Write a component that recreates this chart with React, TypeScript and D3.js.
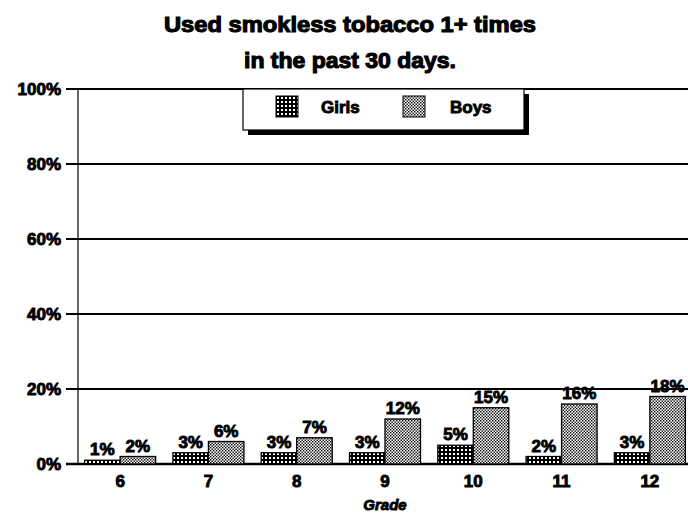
import React from "react";
import * as d3 from "d3";

const grades = ["6", "7", "8", "9", "10", "11", "12"];
const girls = [1, 3, 3, 3, 5, 2, 3];
const boys = [2, 6, 7, 12, 15, 16, 18];
const seriesNames = ["Girls", "Boys"];
const yTicks = [0, 20, 40, 60, 80, 100];
const titleLines = ["Used smokless tobacco 1+ times", "in the past 30 days."];

const W = 688;
const H = 513;
const left = 78;
const top = 89;
const bottom = 464;
const font = "'Liberation Sans', Arial, sans-serif";

const heavy = { stroke: "#000", strokeWidth: 0.9, fill: "#000" };

export default function App() {
  const x = d3.scaleBand<string>().domain(grades).range([76, 694]).paddingInner(0).paddingOuter(0);
  const pairW = 71;
  const inner = d3
    .scaleBand<string>()
    .domain(seriesNames)
    .range([(x.bandwidth() - pairW) / 2, (x.bandwidth() - pairW) / 2 + pairW]);
  const y = d3.scaleLinear().domain([0, 100]).range([bottom, top]);
  const series = [girls, boys];
  const fills = ["url(#pGirls)", "url(#pBoys)"];
  const titleW = [372, 212];

  return (
    <svg
      width={W}
      height={H}
      style={{ position: "absolute", left: 0, top: 0, background: "#fff" }}
      fontFamily={font}
    >
      <defs>
        <pattern id="pGirls" width="4" height="4" patternUnits="userSpaceOnUse">
          <rect width="4" height="4" fill="#000" />
          <rect x="1" y="1" width="2" height="2" fill="#fff" />
        </pattern>
        <pattern id="pBoys" width="3" height="3" patternUnits="userSpaceOnUse">
          <rect width="3" height="3" fill="#fff" />
          <rect x="0" y="0" width="1.4" height="1.4" fill="#000" />
          <rect x="1.5" y="1.5" width="1.4" height="1.4" fill="#000" />
        </pattern>
      </defs>
      <rect width={W} height={H} fill="#fff" />
      {titleLines.map((t, i) => (
        <text
          key={t}
          x={350}
          y={32 + i * 36}
          textAnchor="middle"
          fontSize={22}
          fontWeight="bold"
          textLength={titleW[i]}
          lengthAdjust="spacingAndGlyphs"
          {...heavy}
          strokeWidth={1.1}
        >
          {t}
        </text>
      ))}
      {yTicks.map((t) => (
        <g key={t}>
          <line x1={66} x2={W} y1={y(t)} y2={y(t)} stroke="#000" strokeWidth={t === 0 ? 2.5 : 2} />
          <text
            x={61}
            y={y(t)}
            dy="0.36em"
            textAnchor="end"
            fontSize={17}
            fontWeight="bold"
            {...heavy}
          >
            {t}%
          </text>
        </g>
      ))}
      <line x1={left} x2={left} y1={top} y2={bottom} stroke="#000" strokeWidth={1.2} />
      {/* legend */}
      <g>
        <rect x={248} y={94} width={281} height={41} fill="#000" />
        <rect x={243} y={89} width={281} height={41} fill="#fff" stroke="#000" strokeWidth={1.2} />
        {seriesNames.map((s, i) => (
          <g key={s}>
            <rect
              x={276 + i * 127}
              y={96}
              width={22}
              height={21}
              fill={fills[i]}
              stroke="#000"
              strokeWidth={1}
            />
            <text x={321 + i * 129} y={113} fontSize={17} fontWeight="bold" {...heavy}>
              {s}
            </text>
          </g>
        ))}
      </g>
      {grades.map((g, gi) => (
        <g key={g}>
          {series.map((vals, si) => {
            const bx = (x(g) as number) + (inner(seriesNames[si]) as number);
            const bw = inner.bandwidth();
            const v = vals[gi];
            return (
              <g key={si}>
                <rect
                  x={bx}
                  y={y(v)}
                  width={bw}
                  height={bottom - y(v)}
                  fill={fills[si]}
                  stroke="#000"
                  strokeWidth={1.3}
                />
                <text
                  x={bx + bw / 2}
                  y={y(v) - 5}
                  textAnchor="middle"
                  fontSize={17}
                  fontWeight="bold"
                  {...heavy}
                >
                  {v}%
                </text>
              </g>
            );
          })}
          <text
            x={(x(g) as number) + x.bandwidth() / 2}
            y={487}
            textAnchor="middle"
            fontSize={17}
            fontWeight="bold"
            {...heavy}
          >
            {g}
          </text>
        </g>
      ))}
      <text
        x={385}
        y={510}
        textAnchor="middle"
        fontSize={15}
        fontWeight="bold"
        fontStyle="italic"
        {...heavy}
      >
        Grade
      </text>
    </svg>
  );
}
